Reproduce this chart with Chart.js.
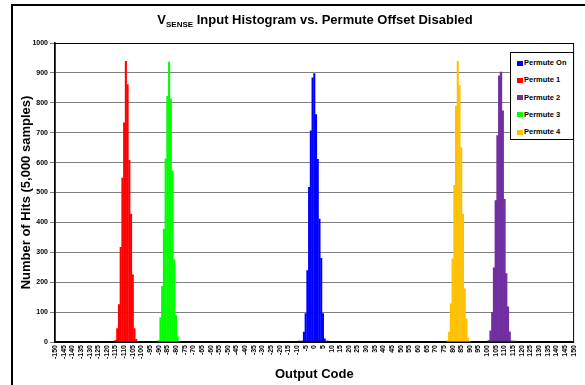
<!DOCTYPE html>
<html>
<head>
<meta charset="utf-8">
<script src="https://cdn.jsdelivr.net/npm/chart.js@4.4.1/dist/chart.umd.min.js"></script>
<style>
	body { margin: 0; background: #fff; font-family: "Liberation Sans", Arial, sans-serif; }
	#wrap { position: relative; width: 585px; height: 385px; overflow: hidden; }
	#frame { position: absolute; left: 11px; top: 4px; width: 700px; height: 500px; border-left: 2px solid #000; border-top: 2px solid #000; }
	#chart { position: absolute; left: 0; top: 0; }
	#title { position: absolute; left: 0; width: 630px; top: 12px; text-align: center; font-weight: bold; font-size: 13px; color: #000; }
	#title sub { font-size: 8px; vertical-align: -3px; line-height: 0; }
	#legend { position: absolute; left: 510px; top: 52px; width: 64px; height: 88px; box-sizing: border-box;
		border: 1.5px solid #000; background: #fff; padding-top: 1px; }
	.item { height: 17.3px; line-height: 17.3px; font-size: 7.5px; font-weight: bold; white-space: nowrap; padding-left: 6px; }
	.item i { display: inline-block; width: 6px; height: 5px; margin-right: 1px; vertical-align: -0.5px; }
</style>
</head>
<body>
<div id="wrap">
	<div id="frame"></div>
	<canvas id="chart" width="585" height="385"></canvas>
	<div id="title">V<sub>SENSE</sub> Input Histogram vs. Permute Offset Disabled</div>
	<div id="legend"></div>
</div>
<script>
// axis range (output codes) and hit counts
const codeMin = -150;
const codeMax = 150;

// each series: first code, then hits for consecutive codes
const permuteOnStart = -7;
const permuteOnHits = [3, 34, 96, 240, 518, 707, 885, 899, 762, 612, 412, 281, 96, 12, 2];

const permute1Start = -115;
const permute1Hits = [7, 46, 126, 318, 549, 734, 940, 862, 609, 429, 226, 46, 10, 3];

const permute2Start = 101;
const permute2Hits = [5, 37, 99, 248, 473, 690, 890, 903, 773, 477, 229, 118, 34, 3];

const permute3Start = -90;
const permute3Hits = [7, 83, 187, 379, 614, 823, 937, 814, 573, 277, 90, 18, 3, 2];

const permute4Start = 76;
const permute4Hits = [2, 6, 34, 129, 279, 525, 790, 940, 859, 651, 429, 179, 79, 14, 3];

// dark zero-level bands under the Permute On / Permute 2 groups
const permuteOnBase = [-9.5, 8.5];
const permute2Base = [100, 117];

const seriesNames = ['Permute On', 'Permute 1', 'Permute 2', 'Permute 3', 'Permute 4'];
const seriesColors = ['#0000ff', '#ff0000', '#7030a0', '#00ff00', '#ffc000'];

function toPoints(start, hits) {
	return hits.map(function(h, i) { return {x: start + i, y: h}; });
}

function baseLine(range, color) {
	return {
		type: 'line',
		data: range.map(function(c) { return {x: c, y: 0}; }),
		borderColor: color,
		borderWidth: 2.5,
		pointRadius: 0,
		order: -1,
		isBase: true
	};
}

const hitSets = [
	toPoints(permuteOnStart, permuteOnHits),
	toPoints(permute1Start, permute1Hits),
	toPoints(permute2Start, permute2Hits),
	toPoints(permute3Start, permute3Hits),
	toPoints(permute4Start, permute4Hits)
];

let datasets = [];
seriesNames.forEach(function(name, i) {
	datasets.push({
		label: name,
		data: hitSets[i],
		backgroundColor: seriesColors[i],
		borderWidth: 0,
		grouped: false,
		categoryPercentage: 1,
		// solid histograms overlap a little so no seams show; purple keeps its light stripes
		barPercentage: (name == 'Permute 2') ? 1.0 : 1.2
	});
});
datasets.push(baseLine(permuteOnBase, '#000080'));
datasets.push(baseLine(permute2Base, '#3a1a5a'));

// black frame round the plot area
const plotFrame = {
	id: 'plotFrame',
	afterDraw: function(chart) {
		const a = chart.chartArea;
		const ctx = chart.ctx;
		ctx.save();
		ctx.strokeStyle = '#000';
		ctx.lineWidth = 1;
		ctx.strokeRect(a.left, a.top + 0.5, a.right - a.left, a.bottom - a.top);
		ctx.restore();
	}
};

Chart.defaults.font.family = '"Liberation Sans", Arial, sans-serif';
Chart.defaults.color = '#000';

new Chart(document.getElementById('chart'), {
	type: 'bar',
	data: { datasets: datasets },
	options: {
		responsive: false,
		animation: false,
		layout: { padding: { left: 19, top: 43, right: 8, bottom: 0 } },
		plugins: {
			legend: { display: false },
			title: { display: false },
			tooltip: { enabled: false }
		},
		scales: {
			x: {
				type: 'linear',
				min: codeMin,
				max: codeMax,
				offset: false,
				ticks: { stepSize: 5, autoSkip: false, minRotation: 90, maxRotation: 90, padding: 3,
					font: { size: 7, weight: 'bold' }, color: '#000',
					callback: function(v) { return String(v); } },
				grid: { display: false, drawTicks: false },
				border: { color: '#000', width: 1.5 },
				title: { display: true, text: 'Output Code', color: '#000',
					font: { size: 13, weight: 'bold' }, padding: { top: 0, bottom: 3 } },
				afterFit: function(scale) { scale.height = 43; }
			},
			y: {
				min: 0,
				max: 1000,
				ticks: { stepSize: 100, padding: 2, font: { size: 7, weight: 'bold' }, color: '#000',
					callback: function(v) { return String(v); } },
				grid: { color: '#808080', tickLength: 5 },
				border: { color: '#000', width: 1.5 },
				title: { display: true, text: 'Number of Hits (5,000 samples)', color: '#000',
					font: { size: 13, weight: 'bold' }, padding: { top: 0, bottom: 0 } },
				afterFit: function(scale) { scale.width = 36; }
			}
		}
	},
	plugins: [plotFrame]
});

// legend box inside the plot, built from the datasets
let legendBox = document.getElementById('legend');
datasets.forEach(function(ds) {
	if (ds.isBase) return;
	let row = document.createElement('div');
	row.className = 'item';
	let mark = document.createElement('i');
	mark.style.background = ds.backgroundColor;
	row.appendChild(mark);
	row.appendChild(document.createTextNode(ds.label));
	legendBox.appendChild(row);
});
</script>
</body>
</html>
